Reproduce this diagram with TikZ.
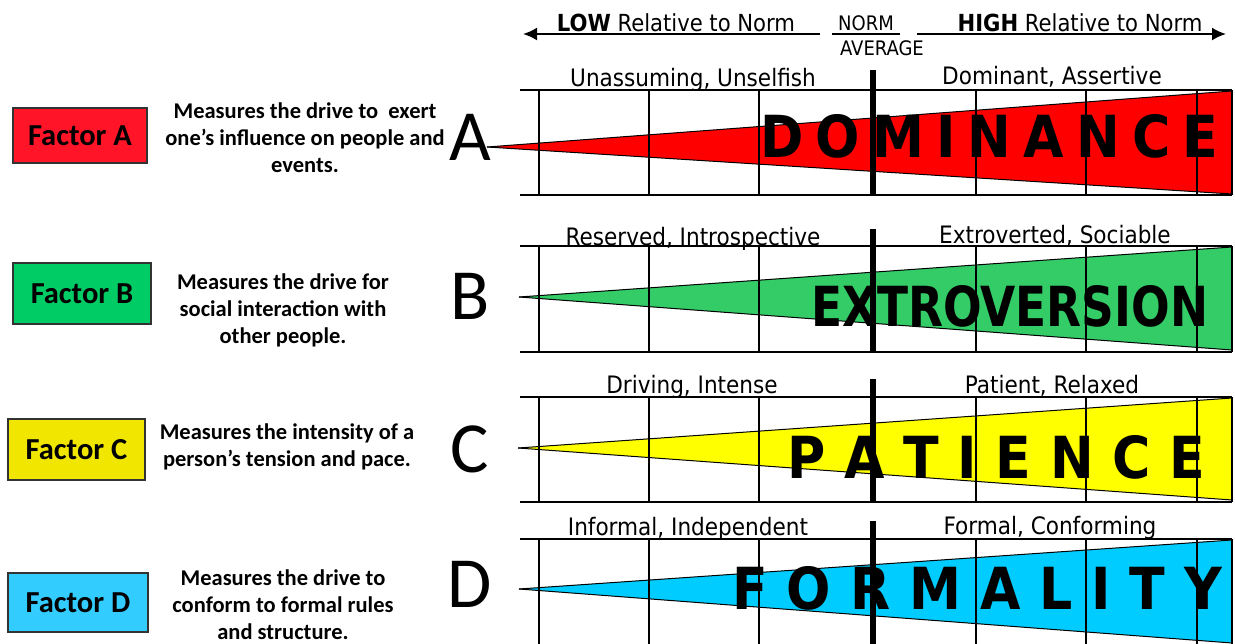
\documentclass[tikz,border=0pt]{standalone}
\usepackage{fontspec}
\usepackage{graphicx}
\setmainfont{Carlito}
\newfontfamily\tah{DejaVu Sans Condensed}
\usetikzlibrary{arrows.meta}
\definecolor{fA}{RGB}{255,20,40}
\definecolor{fB}{RGB}{0,204,102}
\definecolor{fC}{RGB}{240,230,0}
\definecolor{fD}{RGB}{51,204,255}
\definecolor{tA}{RGB}{255,0,0}
\definecolor{tB}{RGB}{51,204,102}
\definecolor{tC}{RGB}{255,255,0}
\definecolor{tD}{RGB}{0,204,255}
\tikzset{
  factor/.style={draw=black!80, line width=1.3pt, inner sep=0pt, font=\fontsize{30.5}{34}\selectfont\bfseries},
  desc/.style={align=center, inner sep=0pt, font=\fontsize{22.5}{27}\selectfont\bfseries},
  bigletter/.style={anchor=base, inner sep=0pt, font=\fontsize{72}{72}\selectfont},
  lbl/.style={anchor=base, inner sep=0pt, font=\tah\fontsize{24}{24}\selectfont},
  hdr/.style={anchor=base, inner sep=0pt, font=\tah\fontsize{23.5}{24}\selectfont},
  nrm/.style={anchor=base, inner sep=0pt, font=\tah\fontsize{20}{20}\selectfont},
  word/.style={anchor=base west, inner sep=0pt, font=\tah\bfseries\fontsize{58}{58}\selectfont},
  grid/.style={line width=1.6pt},
  normline/.style={line width=5.5pt},
  wedge/.style={draw=black, line width=1pt},
  harrow/.style={line width=2pt, -{Latex[length=14pt,width=13pt]}}
}
\begin{document}
\begin{tikzpicture}[x=1pt,y=-1pt]
\useasboundingbox (0,0) rectangle (1235,643);

% header
\node[hdr] (low) at (676,31) {\textbf{LOW} Relative to Norm};
\node[hdr] (high) at (1080,31) {\textbf{HIGH} Relative to Norm};
\node[nrm] (norm) at (866,30) {NORM};
\node[nrm] (avg) at (882,55) {AVERAGE};
\coordinate (la) at (820,34); \coordinate (lb) at (523,34);
\coordinate (ra) at (917,34); \coordinate (rb) at (1226,34);
\coordinate (na) at (832,34); \coordinate (nb) at (900,34);
\draw[harrow] (la) -- (lb);
\draw[harrow] (ra) -- (rb);
\draw[line width=1.5pt] (na) -- (nb);

% rows
\foreach \top/\bot/\ax/\ay/\rt/\rb/\col [count=\i] in
  {90/195/487/147/91/194/tA, 246/352/519/297/247/350/tB, 397/502/518/448/398/500/tC, 539/650/519/589/540/643/tD}{
  \coordinate (apex\i) at (\ax,\ay);
  \coordinate (rt\i) at (1232,\rt);
  \coordinate (rb\i) at (1232,\rb);
  \fill[\col] (apex\i) -- (rt\i) -- (rb\i) -- cycle;
  \draw[wedge] (apex\i) -- (rt\i);
  \draw[wedge] (apex\i) -- (rb\i);
  \draw[grid] (520,\top) -- (1232,\top);
  \draw[grid] (520,\bot) -- (1232,\bot);
  \foreach \gx in {539,649,759,976,1086,1197,1232}{
    \draw[grid] (\gx,\top) -- (\gx,\bot);
  }
}

% words
\node[word] (wA) at (760,157) {\makebox[458pt][s]{D\hfill O\hfill M\hfill I\hfill N\hfill A\hfill N\hfill C\hfill E}};
\node[word] (wB) at (811,326) {\resizebox{397pt}{41pt}{EXTROVERSION}};
\node[word] (wC) at (787,478) {\makebox[418pt][s]{P\hfill A\hfill T\hfill I\hfill E\hfill N\hfill C\hfill E}};
\node[word] (wD) at (732,609) {\makebox[490pt][s]{F\hfill O\hfill R\hfill M\hfill A\hfill L\hfill I\hfill T\hfill Y}};

% norm lines
\foreach \nt/\nb in {70/195, 229/352, 379/502, 521/650}{
  \draw[normline] (873,\nt) -- (873,\nb);
}

% labels
\node[lbl] (lA) at (693,86) {Unassuming, Unselfish};
\node[lbl] (hA) at (1052,84) {Dominant, Assertive};
\node[lbl] (lB) at (693,245) {Reserved, Introspective};
\node[lbl] (hB) at (1055,243) {Extroverted, Sociable};
\node[lbl] (lC) at (692,393) {Driving, Intense};
\node[lbl] (hC) at (1052,393) {Patient, Relaxed};
\node[lbl] (lD) at (688,535) {Informal, Independent};
\node[lbl] (hD) at (1050,534) {Formal, Conforming};

% big letters
\node[bigletter] (LA) at (470,160) {A};
\node[bigletter] (LB) at (470,319) {B};
\node[bigletter] (LC) at (470,472) {C};
\node[bigletter] (LD) at (470,607) {D};

% factor boxes
\node[factor, fill=fA, minimum width=134pt, minimum height=55pt] (fA) at (80,135.5) {Factor A};
\node[factor, fill=fB, minimum width=138pt, minimum height=61pt] (fB) at (82,293.5) {Factor B};
\node[factor, fill=fC, minimum width=137pt, minimum height=61pt] (fC) at (76.5,449.5) {Factor C};
\node[factor, fill=fD, minimum width=140pt, minimum height=59pt] (fD) at (78,602.5) {Factor D};

% descriptions
\node[desc] (dA) at (305,137.5) {Measures the drive to~ exert\\one’s influence on people and\\events.};
\node[desc] (dB) at (283,310.5) {Measures the drive for\\social interaction with\\other people.};
\node[desc] (dC) at (287,446.5) {Measures the intensity of a\\person’s tension and pace.};
\node[desc] (dD) at (283,605) {Measures the drive to\\conform to formal rules\\and structure.};
\end{tikzpicture}
\end{document}
